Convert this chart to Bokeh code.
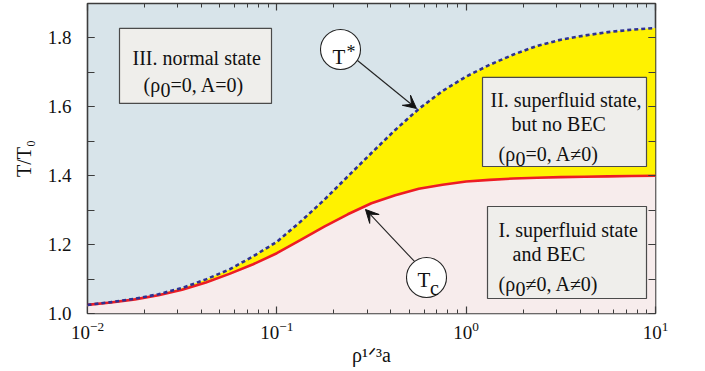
from bokeh.plotting import figure
from bokeh.models import (Label, BoxAnnotation, Arrow, VeeHead, LogAxis, LinearAxis,
                          LogTicker, SingleIntervalTicker, NumeralTickFormatter,
                          CustomJSTickFormatter, Range1d)
from bokeh.embed import file_html
from bokeh.resources import INLINE

# ---------------- data ----------------
rho13a = [0.01, 0.0133, 0.0178, 0.0237, 0.0316, 0.0422, 0.0562, 0.075,
          0.1, 0.133, 0.178, 0.237, 0.316, 0.422, 0.562, 0.75,
          1.0, 1.33, 1.78, 2.37, 3.16, 4.22, 5.62, 7.5, 10.0]
t_star = [1.025, 1.033, 1.043, 1.056, 1.074, 1.099, 1.128, 1.166,
          1.208, 1.266, 1.330, 1.398, 1.466, 1.533, 1.594, 1.646,
          1.688, 1.722, 1.752, 1.777, 1.795, 1.807, 1.817, 1.824, 1.829]
t_c = [1.025, 1.032, 1.041, 1.053, 1.069, 1.090, 1.115, 1.143,
       1.175, 1.213, 1.252, 1.288, 1.320, 1.343, 1.362, 1.374,
       1.383, 1.388, 1.392, 1.394, 1.396, 1.397, 1.398, 1.399, 1.400]
x_limits = (0.01, 10.0)
y_limits = (1.0, 1.9)
y_tick_step = 0.2
x_title = "ρ¹ᐟ³a"
y_title = "T/T₀"

FONT = "Liberation Serif"
TXT = "#111111"
C_UPPER = "#d8e4ea"
C_LOWER = "#f7ecec"
C_MID = "#fff200"
C_BOX = "#efeeeb"
C_TSTAR = "#2e3192"
C_TC = "#ed1c24"
C_FRAME = "#3c3c3c"

p = figure(width=700, height=370, x_axis_type="log",
           x_range=Range1d(*x_limits), y_range=Range1d(*y_limits),
           output_backend="svg", toolbar_location=None,
           min_border_left=87, min_border_right=45, min_border_top=3,
           min_border_bottom=57,
           background_fill_color=C_UPPER, border_fill_color="white")
p.grid.visible = False
p.outline_line_color = C_FRAME
p.outline_line_width = 1.6

# reference-pixel -> data helpers for annotation placement
def X(px):
    return 10 ** (-2 + (px - 87) / 189.33)

def Y(py):
    return 1 + (313 - py) / 344.4

# ---------------- regions & curves ----------------
p.varea(x=rho13a, y1=y_limits[0], y2=t_c, fill_color=C_LOWER)
p.varea(x=rho13a, y1=t_c, y2=t_star, fill_color=C_MID)
p.line(rho13a, t_c, line_color=C_TC, line_width=2.6)
p.line(rho13a, t_star, line_color=C_TSTAR, line_width=2.6, line_dash="4 3")

# ---------------- axes ----------------
xt = LogTicker(mantissas=[1], desired_num_ticks=3, num_minor_ticks=10)
yt = SingleIntervalTicker(interval=y_tick_step, num_minor_ticks=2)

def style_axis(ax, labels=True):
    ax.axis_line_color = None
    ax.major_tick_in = 7
    ax.major_tick_out = 0
    ax.minor_tick_out = 0
    ax.major_tick_line_color = C_FRAME
    ax.minor_tick_line_color = C_FRAME
    ax.major_tick_line_width = 1.2
    ax.minor_tick_line_width = 1.0
    ax.major_label_text_font = FONT
    ax.major_label_text_font_size = "19px"
    ax.major_label_text_color = TXT
    ax.axis_label_text_font = FONT
    ax.axis_label_text_font_size = "20px"
    ax.axis_label_text_font_style = "normal"
    ax.axis_label_text_color = TXT
    if not labels:
        ax.formatter = CustomJSTickFormatter(code="return ''")
        ax.major_label_standoff = 0

bx = p.xaxis[0]
bx.ticker = xt
style_axis(bx)
bx.minor_tick_in = 4
bx.major_label_standoff = 8
bx.axis_label = x_title
bx.axis_label_standoff = 2

ly = p.yaxis[0]
ly.ticker = yt
style_axis(ly)
ly.minor_tick_in = 7
ly.formatter = NumeralTickFormatter(format="0.0")
ly.major_label_standoff = 16
ly.axis_label = y_title
ly.axis_label_standoff = 10

tx = LogAxis(ticker=xt)
style_axis(tx, labels=False)
tx.minor_tick_in = 4
p.add_layout(tx, "above")

ry = LinearAxis(ticker=yt)
style_axis(ry, labels=False)
ry.minor_tick_in = 7
p.add_layout(ry, "right")

# ---------------- text helpers ----------------
EM = {"(": 0.333, ")": 0.333, "ρ": 0.52, "0": 0.5, "1": 0.5, "3": 0.5, "/": 0.278,
      "=": 0.564, ",": 0.25, " ": 0.25, "A": 0.722, "≠": 0.549, "T": 0.611,
      "a": 0.444, "c": 0.444, "*": 0.5}

def w(s, size):
    return sum(EM.get(ch, 0.5) for ch in s) * size

def put(px, py, text, size, angle=0.0):
    p.add_layout(Label(x=X(px), y=Y(py), text=text, text_font=FONT,
                       text_font_size=f"{size}px", text_color=TXT,
                       text_align="left", text_baseline="alphabetic",
                       angle=angle))

def put_sub(px, py, head, sub, tail, size=20, drop=5):
    put(px, py, head, size)
    x2 = px + w(head, size)
    put(x2, py + drop, sub, size)
    put(x2 + w(sub, size), py, tail, size)

# ---------------- boxes ----------------
def box(l, r, t, b):
    p.add_layout(BoxAnnotation(left=X(l), right=X(r), top=Y(t), bottom=Y(b),
                               fill_color=C_BOX, fill_alpha=1.0,
                               line_color="#4a4a4a", line_width=1.2, line_alpha=1.0))

box(119, 271, 28, 103)
put(132, 58, "III. normal state", 20)
put_sub(143, 85, "(ρ", "0", "=0, A=0)")

box(482, 646, 77, 166)
put(490, 100, "II. superfluid state,", 20)
put(511, 124, "but no BEC", 20)
put_sub(498, 154, "(ρ", "0", "=0, A≠0)")

box(487, 646, 206, 298)
put(498, 230, "I. superfluid state", 20)
put(512, 254, "and BEC", 20)
put_sub(498, 284, "(ρ", "0", "≠0, A≠0)")

# ---------------- callouts ----------------
p.add_layout(Arrow(x_start=X(357), y_start=Y(60), x_end=X(416), y_end=Y(108),
                   line_color="#222222", line_width=1.1,
                   end=VeeHead(size=13, fill_color="#111111", line_color="#111111")))
p.add_layout(Arrow(x_start=X(414), y_start=Y(261), x_end=X(365), y_end=Y(209),
                   line_color="#222222", line_width=1.1,
                   end=VeeHead(size=13, fill_color="#111111", line_color="#111111")))
p.scatter(x=[X(340), X(426)], y=[Y(49), Y(277)], size=40, marker="circle",
          fill_color="white", line_color="#222222", line_width=1.1)
put(332, 57, "T", 21)
put(346, 52, "*", 18)
put(417, 280, "T", 21)
put(429.5, 288, "c", 20)

open("out.html", "w").write(file_html(p, INLINE))
